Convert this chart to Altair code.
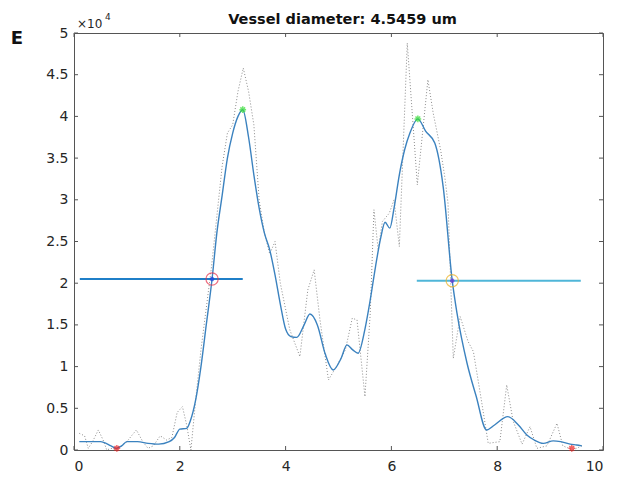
import altair as alt
import pandas as pd

TITLE = "Vessel diameter: 4.5459 um"

# raw intensity profile (dotted), units of 1e4
RAW_X = [0.1, 0.2, 0.27, 0.35, 0.46, 0.55, 0.62, 0.7, 0.8, 0.9, 1.0, 1.1, 1.18, 1.3, 1.4, 1.5,
         1.63, 1.75, 1.85, 1.95, 2.05, 2.13, 2.21, 2.3, 2.4, 2.5, 2.6, 2.7, 2.8, 2.9, 3.0, 3.1,
         3.2, 3.3, 3.4, 3.5, 3.6, 3.7, 3.8, 3.9, 4.08, 4.27, 4.42, 4.54, 4.65, 4.81, 4.96, 5.13,
         5.26, 5.35, 5.5, 5.6, 5.67, 5.75, 5.83, 5.96, 6.05, 6.15, 6.3, 6.49, 6.69, 6.79, 6.93,
         7.01, 7.07, 7.17, 7.3, 7.45, 7.55, 7.7, 7.83, 8.05, 8.18, 8.3, 8.47, 8.62, 8.75, 8.94,
         9.13, 9.24, 9.43, 9.6]
RAW_Y = [0.2, 0.17, 0.02, 0.1, 0.24, 0.12, 0.0, 0.02, 0.0, 0.05, 0.1, 0.18, 0.24, 0.1, 0.02, 0.05,
         0.17, 0.12, 0.15, 0.45, 0.52, 0.3, 0.0, 0.6, 1.2, 1.7, 2.2, 2.8, 3.4, 3.8, 3.9, 4.3,
         4.58, 4.3, 3.9, 3.0, 2.6, 2.35, 2.5, 2.0, 1.44, 1.12, 1.92, 2.16, 1.56, 0.84, 1.0, 1.2,
         1.58, 1.56, 0.64, 1.64, 2.88, 2.4, 2.74, 2.84, 3.0, 2.44, 4.88, 3.18, 4.44, 4.04, 3.6,
         3.27, 2.96, 1.1, 1.6, 1.3, 1.18, 0.6, 0.08, 0.1, 0.78, 0.35, 0.07, 0.28, 0.02, 0.05,
         0.32, 0.05, 0.0, 0.05]

# smoothed profile (solid)
SMOOTH_X = [0.1, 0.3, 0.5, 0.7, 0.8, 0.9, 1.0, 1.2, 1.4, 1.6, 1.8, 1.9, 2.0, 2.13, 2.2, 2.3,
            2.4, 2.5, 2.61, 2.7, 2.8, 2.9, 3.0, 3.1, 3.19, 3.3, 3.4, 3.5, 3.6, 3.7, 3.8, 3.9,
            4.0, 4.1, 4.21, 4.35, 4.46, 4.6, 4.75, 4.9, 5.05, 5.16, 5.27, 5.37, 5.5, 5.6, 5.7,
            5.8, 5.88, 5.97, 6.05, 6.15, 6.25, 6.35, 6.5, 6.65, 6.82, 6.98, 7.15, 7.24, 7.43,
            7.6, 7.8, 7.95, 8.2, 8.4, 8.56, 8.7, 8.87, 9.06, 9.2, 9.38, 9.5, 9.6]
SMOOTH_Y = [0.1, 0.1, 0.1, 0.05, 0.02, 0.05, 0.1, 0.1, 0.08, 0.07, 0.1, 0.15, 0.25, 0.26, 0.35, 0.6,
            1.0, 1.5, 2.05, 2.6, 3.05, 3.5, 3.8, 4.0, 4.08, 3.75, 3.3, 2.9, 2.6, 2.4, 2.1, 1.75,
            1.45, 1.36, 1.35, 1.5, 1.63, 1.5, 1.15, 0.96, 1.1, 1.26, 1.2, 1.16, 1.45, 1.8, 2.2,
            2.55, 2.73, 2.66, 2.9, 3.3, 3.6, 3.8, 3.97, 3.82, 3.68, 3.15, 2.03, 1.64, 1.04,
            0.65, 0.24, 0.3, 0.4, 0.3, 0.18, 0.12, 0.08, 0.11, 0.1, 0.07, 0.06, 0.05]

PEAK_X = [3.19, 6.5]
PEAK_Y = [4.08, 3.97]
VALLEY_X = [0.81, 9.41]
VALLEY_Y = [0.02, 0.02]
HALF_X = [2.61, 7.15]
HALF_Y = [2.05, 2.03]
HALF_COLORS = ["#e8304a", "#EDB120"]
HALF_DOT_COLORS = ["#1f3fe0", "#6a2fd0"]
HLINE_X1 = [0.11, 6.48]
HLINE_X2 = [3.19, 9.58]
HLINE_Y = [2.05, 2.03]
HLINE_COLORS = ["#1f7fc8", "#4fb6d8"]

X_TICKS = [0, 2, 4, 6, 8, 10]
Y_TICKS = [0, 0.5, 1, 1.5, 2, 2.5, 3, 3.5, 4, 4.5, 5]

W, H = 529, 417
FONT = "DejaVu Sans"
STAR = "M-1,0L1,0M0,-1L0,1M-0.7,-0.7L0.7,0.7M-0.7,0.7L0.7,-0.7"

xs = alt.Scale(domain=[0, 10], nice=False, zero=False)
ys = alt.Scale(domain=[0, 5], nice=False, zero=False)

raw = pd.DataFrame({"x": RAW_X, "y": RAW_Y})
smooth = pd.DataFrame({"x": SMOOTH_X, "y": SMOOTH_Y})
peaks = pd.DataFrame({"x": PEAK_X, "y": PEAK_Y})
valleys = pd.DataFrame({"x": VALLEY_X, "y": VALLEY_Y})
half = pd.DataFrame({"x": HALF_X, "y": HALF_Y, "c": HALF_COLORS, "d": HALF_DOT_COLORS})
hl = pd.DataFrame({"x": HLINE_X1, "x2": HLINE_X2, "y": HLINE_Y, "c": HLINE_COLORS})
xt = pd.DataFrame({"x": X_TICKS})
yt = pd.DataFrame({"y": Y_TICKS})

xaxis = alt.Axis(values=X_TICKS, format="d", labelPadding=9, ticks=False, domain=False,
                 grid=False, title=None, labelFont=FONT, labelFontSize=14, labelColor="#262626")
yaxis = alt.Axis(values=Y_TICKS, format="~g", labelPadding=6, ticks=False, domain=False,
                 grid=False, title=None, labelFont=FONT, labelFontSize=14, labelColor="#262626")
X = alt.X("x:Q", scale=xs, axis=xaxis)
Y = alt.Y("y:Q", scale=ys, axis=yaxis)

raw_line = alt.Chart(raw).mark_line(color="#666666", strokeWidth=1, strokeDash=[1, 2],
                                    opacity=0.75).encode(x=X, y=Y)
hlines = alt.Chart(hl).mark_rule(strokeWidth=2).encode(
    x=X, x2="x2:Q", y=Y, color=alt.Color("c:N", scale=None))
smooth_line = alt.Chart(smooth).mark_line(color="#3b82bf", strokeWidth=1.4,
                                          interpolate="monotone").encode(x=X, y=Y)
peak_pts = alt.Chart(peaks).mark_point(shape=STAR, size=45, filled=False, color="#33dd33",
                                       strokeWidth=1.5).encode(x=X, y=Y)
valley_pts = alt.Chart(valleys).mark_point(shape=STAR, size=45, filled=False, color="#ee2222",
                                           strokeWidth=1.5).encode(x=X, y=Y)
half_circ = alt.Chart(half).mark_point(shape="circle", size=150, filled=False, strokeWidth=1.2).encode(
    x=X, y=Y, stroke=alt.Stroke("c:N", scale=None))
half_dot = alt.Chart(half).mark_point(shape=STAR, size=20, filled=False, strokeWidth=1.5).encode(
    x=X, y=Y, stroke=alt.Stroke("d:N", scale=None))

tick_color = "#555555"
tb = alt.Chart(xt).mark_rule(color=tick_color).encode(x=X, y=alt.value(H), y2=alt.value(H - 4))
tt = alt.Chart(xt).mark_rule(color=tick_color).encode(x=X, y=alt.value(0), y2=alt.value(4))
tl = alt.Chart(yt).mark_rule(color=tick_color).encode(y=Y, x=alt.value(0), x2=alt.value(4))
tr = alt.Chart(yt).mark_rule(color=tick_color).encode(y=Y, x=alt.value(W), x2=alt.value(W - 4))

title_df = pd.DataFrame({"t": [TITLE]})
title_txt = alt.Chart(title_df).mark_text(font=FONT, fontSize=14.5, fontWeight="bold",
                                          color="#111111", align="center",
                                          baseline="alphabetic").encode(
    text="t:N", x=alt.value(W / 2 + 4), y=alt.value(-9))
lab = pd.DataFrame({"t": ["E"]})
e_txt = alt.Chart(lab).mark_text(font=FONT, fontSize=18, fontWeight="bold", color="#111111",
                                 align="center", baseline="middle").encode(
    text="t:N", x=alt.value(-57), y=alt.value(6))
mul = pd.DataFrame({"t": ["\u00d710"]})
mul_txt = alt.Chart(mul).mark_text(font=FONT, fontSize=12, color="#262626", align="left",
                                   baseline="alphabetic").encode(
    text="t:N", x=alt.value(3), y=alt.value(-5))
sup = pd.DataFrame({"t": ["4"]})
sup_txt = alt.Chart(sup).mark_text(font=FONT, fontSize=9, color="#262626", align="left",
                                   baseline="alphabetic").encode(
    text="t:N", x=alt.value(31), y=alt.value(-13))

chart = alt.layer(
    raw_line, hlines, smooth_line, peak_pts, valley_pts, half_circ, half_dot,
    tb, tt, tl, tr, title_txt, e_txt, mul_txt, sup_txt
).properties(
    width=W, height=H,
    autosize=alt.AutoSizeParams(type="none"),
    padding={"left": 66, "top": 25, "right": 14, "bottom": 25},
).configure_view(stroke="#555555", strokeWidth=1)

chart.save("out.html", embed_options={"renderer": "svg", "actions": False})
